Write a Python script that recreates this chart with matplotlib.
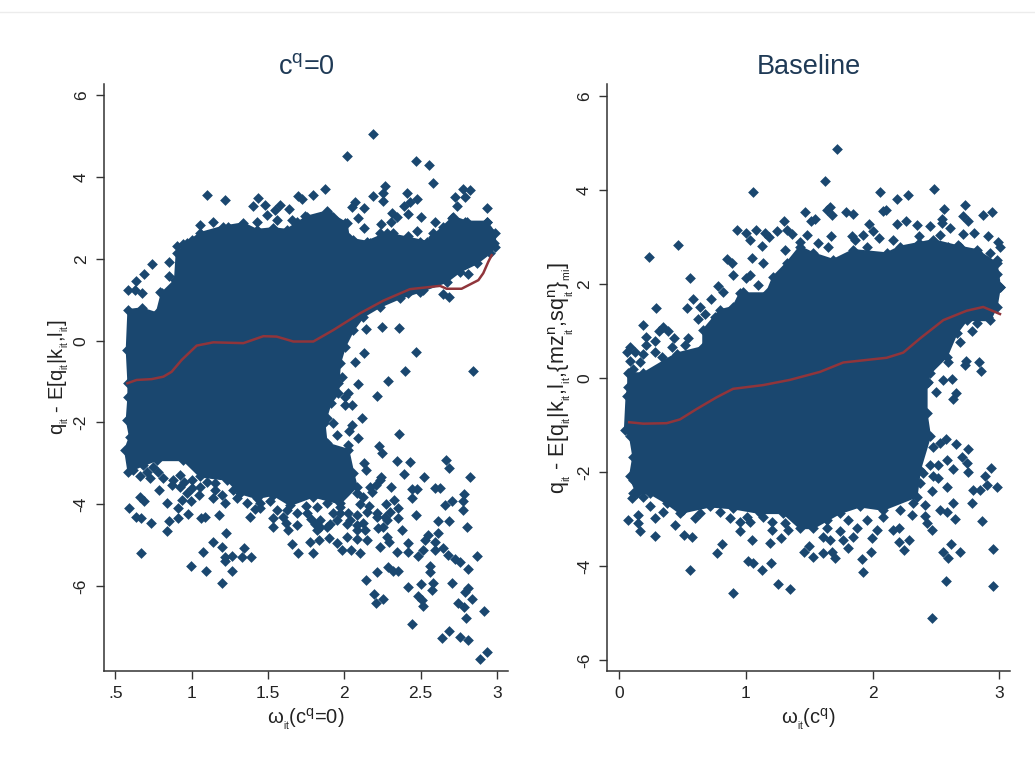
import numpy as np
import matplotlib
matplotlib.use("Agg")
import matplotlib.pyplot as plt
from matplotlib.lines import Line2D

plt.rcParams['font.family'] = ['Liberation Sans', 'DejaVu Sans']
plt.rcParams['mathtext.fontset'] = 'custom'
plt.rcParams['mathtext.rm'] = 'Liberation Sans'
plt.rcParams['mathtext.it'] = 'Liberation Sans'

NAVY = "#1a476f"
MAROON = "#90353b"
DARK = "#333333"

# left panel: outline of the solid part of the cloud (omega, residual)
core_left = [(.586, -1.04), (.575, -.23), (.586, .75), (.673, .79), (.771, .67), (.804, 1.16), (.891, 1.48),
             (.902, 2.14), (.968, 2.38), (1.055, 2.63), (1.208, 2.79), (1.339, 2.87), (1.426, 2.71), (1.535, 2.75),
             (1.622, 2.71), (1.753, 3.03), (1.884, 3.16), (2.015, 2.87), (2.03, 2.5), (2.146, 2.42), (2.277, 2.63),
             (2.539, 2.42), (2.648, 2.79), (2.714, 3.03), (2.801, 2.91), (2.932, 2.91), (2.987, 2.63), (2.987, 2.3),
             (2.954, 2.14), (2.867, 1.89), (2.758, 1.69), (2.67, 1.44), (2.496, 1.2), (2.365, 1.04), (2.234, .83),
             (2.125, .59), (2.059, .26), (2.004, -.15), (1.972, -.55), (1.961, -1.04), (1.961, -1.29), (1.91, -1.53),
             (1.87, -2.02), (1.884, -2.51), (2.026, -2.67), (2.059, -3.24), (2.081, -3.57), (1.972, -3.98),
             (1.797, -3.81), (1.644, -4.02), (1.535, -3.77), (1.426, -3.85), (1.317, -3.73), (1.23, -3.4),
             (1.055, -3.32), (.946, -2.92), (.771, -2.92), (.684, -3.04), (.586, -3.2), (.564, -2.67), (.596, -2.35),
             (.575, -1.94), (.586, -1.37)]

# left panel: separate points around the cloud
points_left = [(2.188, 5.05), (2.015, 4.51), (2.467, 4.40), (2.552, 4.29), (2.581, 3.86), (2.937, 3.25), (2.823, 3.69),
               (2.779, 3.70), (2.79, 3.52), (2.725, 3.51), (2.736, 3.29), (2.266, 3.78), (2.251, 3.60), (2.19, 3.54),
               (2.256, 3.42), (2.408, 3.61), (2.478, 3.47), (2.43, 3.40), (2.391, 3.29), (2.419, 3.10), (2.504, 3.03),
               (2.592, 2.89), (2.312, 3.11), (2.343, 3.03), (2.304, 2.91), (2.238, 2.85), (2.129, 3.24), (2.07, 3.40),
               (2.052, 3.28), (2.092, 3.0), (2.131, 2.75), (2.478, 2.67), (2.419, 2.56), (1.871, 3.72), (1.793, 3.57),
               (1.699, 3.54), (1.725, 3.46), (1.64, 3.21), (1.579, 3.32), (1.546, 3.2), (1.437, 3.5), (1.404, 3.29),
               (1.481, 3.32), (1.099, 3.57), (1.216, 3.43), (1.055, 2.82), (1.14, 2.89), (1.24, 2.79), (.946, 2.36),
               (.906, 2.32), (1.005, 2.45), (.743, 1.88), (.852, 1.92), (.686, 1.63), (.852, 1.58), (.636, 1.47),
               (.586, 1.24), (.629, 1.24), (.673, 1.16), (.793, 1.2), (2.703, 2.99), (2.79, 2.89), (2.937, 2.89),
               (2.878, 2.79), (2.976, 2.61), (2.982, 2.38), (2.583, 2.63), (1.743, 3.05), (1.895, 3.13), (1.852, 3.0),
               (2.004, 2.87), (1.655, 2.95), (1.426, 2.91), (1.328, 2.83), (2.648, 1.14), (2.688, 1.08), (2.513, 1.24),
               (2.419, 1.16), (2.812, 1.63), (2.245, .34), (2.358, .30), (2.14, .29), (2.467, -.28), (2.131, -.31),
               (2.072, -.52), (2.397, -.74), (2.84, -.74), (2.284, -.99), (2.092, -1.06), (1.983, -.88),
               (2.216, -1.35), (2.026, -1.29), (2.004, -1.37), (2.048, -1.57), (2.004, -1.57), (2.114, -1.88),
               (1.884, -1.88), (1.928, -2.02), (2.052, -2.06), (2.033, -2.22), (1.95, -2.30), (2.092, -2.39),
               (2.36, -2.29), (2.026, -2.55), (2.227, -2.57), (2.247, -2.75), (2.131, -3.0), (2.14, -3.16),
               (2.343, -2.93), (2.43, -2.96), (2.389, -3.26), (2.524, -3.33), (2.668, -2.92), (2.688, -3.11),
               (2.823, -3.33), (2.238, -3.33), (2.205, -3.53), (2.179, -3.69), (2.304, -3.58), (2.441, -3.63),
               (2.474, -3.63), (2.441, -3.85), (2.594, -3.61), (2.627, -3.61), (2.786, -3.76), (2.779, -3.93),
               (2.703, -3.93), (2.659, -4.02), (2.779, -4.14), (2.323, -3.9), (2.273, -4.0), (2.352, -4.08),
               (2.467, -4.26), (2.611, -4.41), (2.688, -4.41), (2.803, -4.55), (2.354, -4.34), (2.38, -4.63),
               (2.266, -4.30), (2.212, -4.32), (2.146, -4.18), (2.081, -4.26), (2.026, -4.22), (2.255, -4.55),
               (2.223, -4.59), (2.135, -4.63), (2.081, -4.51), (2.015, -4.47), (1.906, -4.47), (1.841, -4.55),
               (1.808, -4.47), (1.688, -4.51), (1.633, -4.63), (1.535, -4.55), (1.535, -4.34), (1.557, -4.14),
               (1.415, -4.11), (1.382, -4.30), (1.36, -3.98), (1.219, -3.97), (1.179, -4.26), (1.088, -4.30),
               (1.061, -4.33), (.974, -4.23), (.909, -4.33), (.852, -4.41), (.841, -4.66), (.734, -4.45), (.666, -4.34),
               (.636, -4.30), (.592, -4.09), (.662, -3.83), (.688, -3.93), (.841, -3.98), (.786, -3.66), (.913, -4.10),
               (.935, -3.89), (.994, -3.93), (1.05, -3.77), (1.142, -3.85), (1.197, -3.77), (.727, -3.36), (.706, -3.20),
               (.618, -3.16), (.815, -3.36), (.869, -3.53), (.924, -3.28), (1.0, -3.40), (1.099, -3.45), (.666, -5.2),
               (1.225, -4.69), (1.14, -4.91), (1.197, -5.05), (1.072, -5.17), (1.343, -5.08), (1.219, -5.28),
               (1.219, -5.39), (1.267, -5.26), (1.332, -5.30), (1.389, -5.30), (.996, -5.52), (1.092, -5.63),
               (1.267, -5.63), (1.197, -5.92), (1.655, -4.98), (1.697, -5.2), (1.775, -4.91), (1.832, -4.87),
               (1.793, -5.2), (1.897, -4.83), (1.95, -4.95), (1.983, -5.12), (2.044, -5.12), (2.103, -5.2),
               (2.015, -4.79), (2.081, -4.85), (2.149, -4.87), (2.236, -5.05), (2.277, -4.79), (2.293, -4.91),
               (2.343, -5.16), (2.419, -4.94), (2.419, -5.17), (2.485, -5.26), (2.513, -5.12), (2.528, -4.87),
               (2.55, -4.75), (2.616, -4.71), (2.594, -4.91), (2.594, -5.12), (2.648, -5.08), (2.681, -5.24),
               (2.725, -5.34), (2.758, -5.41), (2.871, -5.27), (2.812, -5.59), (2.561, -5.5), (2.561, -5.65),
               (2.288, -5.54), (2.321, -5.62), (2.349, -5.63), (2.216, -5.66), (2.14, -5.84), (2.419, -6.02),
               (2.504, -5.95), (2.583, -5.92), (2.572, -6.09), (2.707, -5.92), (2.812, -6.05), (2.79, -6.14),
               (2.834, -6.31), (2.485, -6.24), (2.511, -6.34), (2.513, -6.48), (2.197, -6.19), (2.255, -6.31),
               (2.205, -6.42), (2.747, -6.42), (2.784, -6.5), (2.917, -6.6), (2.795, -6.78), (2.445, -6.93),
               (2.688, -7.11), (2.638, -7.28), (2.758, -7.24), (2.812, -7.32), (2.937, -7.61), (2.889, -7.79),
               # denser parts of the fringe
               (1.622, -4.14), (1.688, -4.22), (1.753, -4.22), (1.819, -4.06), (1.884, -3.98), (1.928, -4.22),
               (1.972, -4.06), (1.95, -4.38), (1.884, -4.55), (1.819, -4.63), (1.841, -4.38), (2.081, -3.73),
               (2.125, -3.81), (2.168, -3.57), (2.234, -3.4), (2.212, -4.22), (2.277, -4.38), (2.037, -4.38),
               (2.125, -4.46), (2.081, -4.63), (1.972, -4.22), (1.448, -3.98), (1.513, -3.93), (1.273, -3.65),
               (.924, -3.57), (.968, -3.73), (.88, -3.40), (1.055, -3.57), (1.153, -3.49), (1.491, 3.07), (1.557, 2.95),
               (1.688, 2.91), (1.797, 2.91), (1.928, 3.03), (2.059, 2.46), (2.168, 2.38), (2.234, 2.63), (2.321, 2.63),
               (2.397, 2.46), (2.496, 2.42), (2.583, 2.54), (2.67, 2.71), (2.758, 2.79), (2.823, 2.67), (2.91, 2.75),
               (2.0, -3.75), (2.1, -4.0), (2.16, -4.05), (2.3, -4.2), (1.3, -3.85), (1.15, -3.65), (1.0, -3.6),
               (.95, -3.45), (1.75, -4.05), (1.45, -4.1), (1.6, -4.3), (1.62, -4.45), (1.78, -4.35), (.75, -3.1),
               (.66, -3.3), (.78, -3.2)]

# left panel: smoothed line
line_left_x = [.579, .64, .738, .815, .869, .935, 1.033, 1.142, 1.339, 1.47, 1.557, 1.666, 1.797, 1.928, 2.103, 2.256,
               2.43, 2.627, 2.67, 2.768, 2.878, 2.91, 2.943, 2.965]
line_left_y = [-1.04, -.96, -.94, -.88, -.76, -.47, -.12, -.04, -.06, .11, .10, -.02, -.02, .26, .67, .98,
               1.26, 1.34, 1.27, 1.27, 1.48, 1.65, 1.93, 2.09]

# right panel: outline of the solid part of the cloud
core_right = [(.073, -.19), (.073, .10), (.192, .10), (.455, .52), (.665, .66), (.665, 1.02), (.796, 1.44), (.9, 1.51),
              (.954, 1.8), (1.164, 1.8), (1.217, 2.15), (1.322, 2.44), (1.427, 2.79), (1.532, 2.65), (1.69, 2.51),
              (1.848, 2.72), (2.111, 2.65), (2.216, 2.79), (2.479, 2.93), (2.689, 2.79), (2.821, 2.72), (2.978, 2.44),
              (3.005, 1.94), (2.978, 1.51), (2.926, 1.23), (2.742, 1.23), (2.663, .95), (2.584, .45), (2.453, .10),
              (2.426, -.11), (2.426, -.75), (2.453, -1.24), (2.374, -1.95), (2.347, -2.52), (2.084, -2.8),
              (1.9, -2.73), (1.743, -2.87), (1.532, -3.19), (1.427, -3.19), (1.296, -2.87), (1.112, -2.87), (.9, -2.77),
              (.718, -2.73), (.481, -2.87), (.376, -2.66), (.244, -2.45), (.139, -2.45), (.087, -2.09), (.113, -1.67),
              (.087, -1.24), (.047, -1.10), (.06, -.39)]

# right panel: separate points around the cloud
points_right = [(1.719, 4.86), (1.624, 4.18), (1.059, 3.96), (2.056, 3.96), (2.195, 3.80), (2.276, 3.9), (2.484, 4.02),
                (2.726, 3.68), (2.566, 3.59), (2.939, 3.53), (2.873, 3.46), (2.106, 3.58), (2.079, 3.54), (1.664, 3.63),
                (1.638, 3.58), (1.682, 3.46), (1.787, 3.53), (1.848, 3.48), (1.464, 3.53), (1.546, 3.37), (1.514, 3.33),
                (1.304, 3.34), (1.974, 3.27), (2.0, 3.12), (2.195, 3.27), (2.263, 3.34), (2.347, 3.25), (2.452, 3.23),
                (2.545, 3.39), (2.545, 3.29), (2.715, 3.44), (2.755, 3.34), (2.61, 3.18), (2.715, 3.06), (2.8, 3.09),
                (2.907, 3.02), (2.991, 2.9), (3.004, 2.78), (.93, 3.14), (.999, 3.09), (1.036, 2.93), (1.083, 3.14),
                (1.151, 3.09), (1.185, 2.99), (1.243, 3.12), (1.322, 3.14), (1.362, 3.07), (1.128, 2.80), (1.049, 2.56),
                (1.133, 2.45), (1.485, 3.04), (1.427, 2.9), (1.569, 2.87), (1.672, 3.02), (1.651, 2.79), (1.835, 3.02),
                (1.861, 2.93), (1.921, 3.05), (1.953, 2.79), (2.053, 2.97), (2.163, 2.93), (2.368, 3.02), (2.368, 2.86),
                (2.531, 3.04), (2.597, 2.79), (2.676, 2.83), (2.821, 2.68), (2.926, 2.65), (2.978, 2.51), (2.978, 2.22),
                (3.005, 1.94), (1.309, 2.72), (.236, 2.58), (.468, 2.83), (.849, 2.52), (.894, 2.44), (.56, 2.12),
                (.896, 2.18), (.999, 2.12), (1.033, 2.19), (1.099, 1.98), (.98, 1.83), (.783, 1.96), (.823, 1.83),
                (.725, 1.67), (.586, 1.67), (.539, 1.49), (.639, 1.51), (.294, 1.49), (.678, 1.36), (.62, 1.25),
                (.757, 1.3), (.189, 1.12), (.349, 1.08), (.318, .99), (.389, .99), (.213, .87), (.284, .78), (.213, .71),
                (.547, .86), (.52, .71), (.434, .84), (.087, .66), (.06, .56), (.126, .56), (.192, .52), (.087, .37),
                (.165, .35), (.284, .56), (.336, .45), (.415, .66), (.113, .2), (2.742, 1.29), (2.826, 1.16), (2.786, 1.0),
                (2.689, .77), (2.913, 1.3), (2.597, .35), (2.736, .37), (2.728, .28), (2.842, .34), (2.855, .15),
                (2.623, -.02), (2.552, -.04), (2.439, -.08), (2.658, -.31), (2.631, -.45), (2.497, -.29), (2.576, -1.3),
                (2.658, -1.41), (2.75, -1.51), (2.702, -1.68), (2.742, -1.81), (2.752, -2.0), (2.936, -1.91),
                (2.886, -2.09), (2.899, -2.27), (2.983, -2.31), (2.794, -2.38), (2.847, -2.38), (2.786, -2.66),
                (2.865, -3.04), (2.947, -3.63), (2.947, -4.41), (2.471, -5.09), (2.576, -4.32), (2.689, -3.7),
                (2.621, -3.53), (2.558, -3.69), (2.597, -3.83), (2.647, -3.0), (2.636, -2.66), (2.584, -2.84),
                (2.531, -2.8), (2.584, -2.31), (2.518, -2.13), (2.636, -1.94), (2.584, -1.74), (2.518, -1.85),
                (2.453, -1.85), (2.4, -2.02), (2.466, -2.41), (2.413, -2.7), (2.413, -2.94), (2.471, -3.24),
                (2.426, -3.09), (2.308, -2.91), (2.208, -3.19), (2.163, -3.23), (2.287, -3.44), (2.208, -3.48),
                (2.25, -3.65), (2.032, -3.23), (1.992, -3.41), (1.987, -3.69), (1.914, -3.85), (1.927, -4.13),
                (1.808, -3.62), (1.769, -3.44), (1.874, -3.19), (1.743, -3.26), (1.808, -3.02), (1.664, -3.44),
                (1.638, -3.19), (1.611, -3.37), (1.703, -3.82), (1.677, -3.69), (1.611, -3.71), (1.532, -3.81),
                (1.501, -3.58), (1.459, -3.70), (1.348, -4.48), (1.256, -4.38), (1.199, -3.94), (1.128, -4.09),
                (1.059, -3.94), (1.02, -3.88), (.896, -4.57), (.56, -4.07), (.77, -3.72), (.815, -3.53), (1.046, -3.44),
                (1.191, -3.51), (1.277, -3.41), (1.335, -3.24), (1.204, -3.23), (1.204, -3.05), (.954, -3.26),
                (.954, -3.05), (1.033, -3.05), (.875, -2.98), (.573, -3.38), (.512, -3.34), (.284, -3.35), (.444, -3.13),
                (.165, -3.26), (.152, -3.09), (.073, -3.01), (.152, -2.91), (.284, -2.98), (.349, -2.84), (.244, -2.73),
                (.1, -2.56), (.336, -2.48), (.599, -2.98), (.113, -2.17), (.192, -2.31),
                # denser parts of the fringe
                (1.953, -3.02), (2.084, -2.95), (2.216, -2.80), (2.321, -2.66), (1.848, -3.37), (1.638, -3.02),
                (1.309, -3.09), (1.138, -2.95), (1.007, -2.95), (.796, -2.84), (.639, -2.87), (.507, -2.80),
                (.192, -2.52), (.113, -2.45), (2.374, -2.24), (2.479, -2.09), (2.479, -1.46), (2.531, -1.39)]

# right panel: smoothed line
line_right_x = [.081, .192, .376, .481, .612, .77, .9, 1.138, 1.348, 1.585, 1.769, 2.111, 2.242, 2.374, 2.558, 2.742,
                2.873, 3.005]
line_right_y = [-.94, -.97, -.96, -.88, -.66, -.41, -.23, -.15, -.04, .13, .33, .43, .54, .84, 1.23, 1.43, 1.51, 1.36]

y_ticks = [-6, -4, -2, 0, 2, 4, 6]
x_ticks_left = [.5, 1, 1.5, 2, 2.5, 3]
x_labels_left = [".5", "1", "1.5", "2", "2.5", "3"]
x_ticks_right = [0, 1, 2, 3]


def draw_panel(ax, core, points, line_x, line_y, title, xlabel, ylabel, ylabel_size, ylabel_pad):
    px, py = zip(*points)
    cx, cy = zip(*core)
    ax.fill(cx, cy, color=NAVY, lw=1.5, zorder=2)
    # diamonds on the outline too, so its edge is not straight
    ax.scatter(cx, cy, marker="D", s=30, color=NAVY, linewidths=0, zorder=2)
    ax.scatter(px, py, marker="D", s=30, color=NAVY, linewidths=0, zorder=2)
    ax.plot(line_x, line_y, color=MAROON, lw=1.8, zorder=3)
    ax.spines["top"].set_visible(False)
    ax.spines["right"].set_visible(False)
    ax.spines["left"].set_linewidth(1.1)
    ax.spines["bottom"].set_linewidth(1.1)
    ax.spines["left"].set_color(DARK)
    ax.spines["bottom"].set_color(DARK)
    ax.set_yticks(y_ticks)
    ax.set_yticklabels([str(t) for t in y_ticks], rotation=90, va="center", fontsize=12.5, color="#222222")
    ax.tick_params(axis="both", length=6, width=1, color=DARK, pad=5)
    ax.tick_params(axis="x", labelsize=12.5, labelcolor="#222222")
    ax.set_title(title, fontsize=19.5, color="#1f3a56", pad=7)
    ax.set_xlabel(xlabel, fontsize=14.5, color="#222222", labelpad=4)
    ax.set_ylabel(ylabel, fontsize=ylabel_size, color="#222222", labelpad=ylabel_pad)


W, H = 1035, 765
fig = plt.figure(figsize=(W / 100, H / 100), dpi=100)
ax1 = fig.add_axes([104 / W, (H - 671) / H, 404 / W, 587 / H])
ax2 = fig.add_axes([607.3 / W, (H - 671) / H, 402.7 / W, 587 / H])

draw_panel(ax1, core_left, points_left, line_left_x, line_left_y,
           r"c$^{\mathrm{q}}$=0",
           r"$\mathrm{\omega_{_{it}}}$(c$^{\mathrm{q}}$=0)",
           r"q$_{_{\mathrm{it}}}$ - E[q$_{_{\mathrm{it}}}$|k$_{_{\mathrm{it}}}$,l$_{_{\mathrm{it}}}$]",
           14.5, 2)
ax1.set_xlim(.426, 3.072)
ax1.set_ylim(-8.076, 6.276)
ax1.set_xticks(x_ticks_left)
ax1.set_xticklabels(x_labels_left)

draw_panel(ax2, core_right, points_right, line_right_x, line_right_y,
           "Baseline",
           r"$\mathrm{\omega_{_{it}}}$(c$^{\mathrm{q}}$)",
           r"q$_{_{\mathrm{it}}}$ - E[q$_{_{\mathrm{it}}}$|k$_{_{\mathrm{it}}}$,l$_{_{\mathrm{it}}}$,{mz$^{\mathrm{n}}_{_{\mathrm{it}}}$,sq$^{\mathrm{n}}_{_{\mathrm{it}}}$}$_{_{\mathrm{mi}}}$]",
           15.5, 1)
ax2.set_xlim(-.092, 3.084)
ax2.set_ylim(-6.227, 6.249)
ax2.set_xticks(x_ticks_right)

# thin separator at the top of the page
fig.add_artist(Line2D([0, 1], [1 - 12 / H, 1 - 12 / H], color="#ececec", lw=1))

fig.savefig("out.png", dpi=100)
